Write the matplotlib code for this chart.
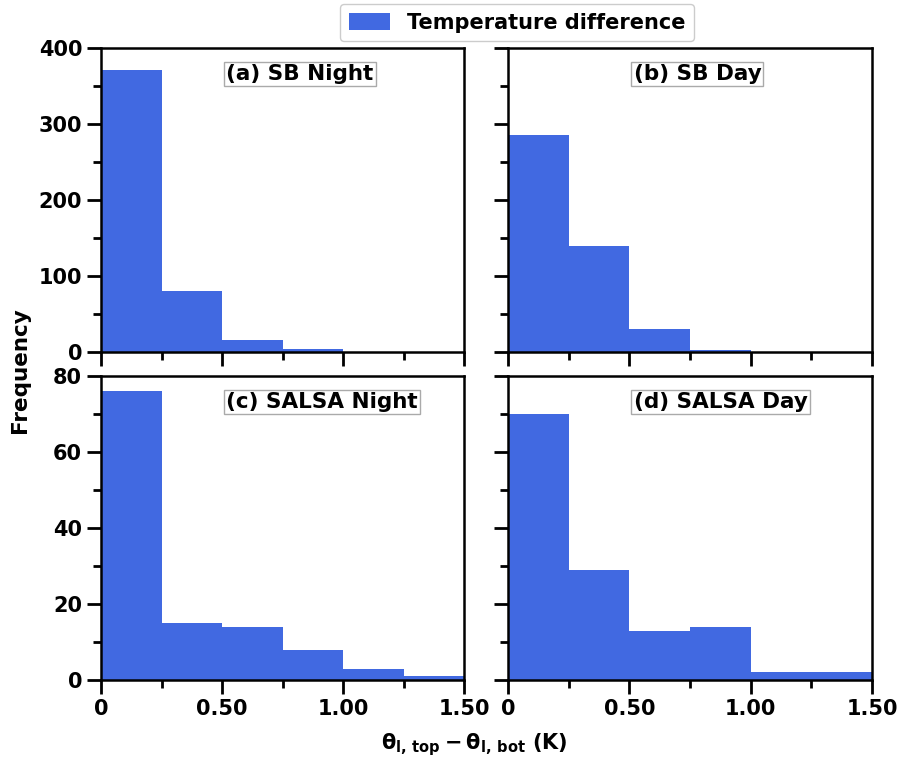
import numpy as np
import matplotlib
matplotlib.use('Agg')
import matplotlib.pyplot as plt
from matplotlib.ticker import MultipleLocator, FixedLocator

# bin edges and counts per panel
bin_edges = [0, 0.25, 0.5, 0.75, 1.0, 1.25, 1.5]
sb_night = [371, 80, 16, 4, 0, 0]
sb_day = [286, 139, 30, 2, 0, 0]
salsa_night = [76, 15, 14, 8, 3, 1]
salsa_day = [70, 29, 13, 14, 2, 2]
panel_titles = ['(a) SB Night', '(b) SB Day', '(c) SALSA Night', '(d) SALSA Day']
xtick_vals = [0, 0.5, 1.0, 1.5]
xtick_labels = ['0', '0.50', '1.00', '1.50']

plt.rcParams['font.weight'] = 'bold'
plt.rcParams['axes.labelweight'] = 'bold'

fig = plt.figure(figsize=(8.99, 7.63), dpi=100)
W, H = 899.0, 763.0
boxes = [(101, 48, 363, 304), (508, 48, 364, 304),
         (101, 376, 363, 304), (508, 376, 364, 304)]
data = [sb_night, sb_day, salsa_night, salsa_day]
color = '#4169E1'

axes = []
for i, (x0, y0, w, h) in enumerate(boxes):
    ax = fig.add_axes([x0 / W, 1 - (y0 + h) / H, w / W, h / H])
    centers = np.array(bin_edges[:-1]) + 0.125
    ax.hist(centers, bins=bin_edges, weights=data[i], color=color,
            label='Temperature difference' if i == 0 else None)
    ax.set_xlim(0, 1.5)
    if i < 2:
        ax.set_ylim(0, 400)
        ax.yaxis.set_major_locator(MultipleLocator(100))
        ax.yaxis.set_minor_locator(MultipleLocator(50))
    else:
        ax.set_ylim(0, 80)
        ax.yaxis.set_major_locator(MultipleLocator(20))
        ax.yaxis.set_minor_locator(MultipleLocator(10))
    ax.xaxis.set_major_locator(FixedLocator(xtick_vals))
    ax.xaxis.set_minor_locator(MultipleLocator(0.25))
    if i >= 2:
        ax.set_xticklabels(xtick_labels)
    else:
        ax.set_xticklabels([])
    if i % 2 == 1:
        ax.set_yticklabels([])
    ax.tick_params(which='major', length=10, width=2, labelsize=15)
    ax.tick_params(which='minor', length=6, width=2)
    for s in ax.spines.values():
        s.set_linewidth(1.8)
    ax.text(0.345, 0.915, panel_titles[i], transform=ax.transAxes,
            fontsize=15.5, fontweight='bold', ha='left', va='center',
            bbox=dict(facecolor='white', edgecolor='#aaaaaa', pad=1.5, linewidth=1))
    axes.append(ax)

fig.text(20 / W, 1 - 370 / H, 'Frequency', rotation=90, fontsize=15.5,
         fontweight='bold', ha='center', va='center')
fig.text(474 / W, 1 - 745 / H,
         r'$\mathbf{\theta_{l,\,top} - \theta_{l,\,bot}}$ (K)',
         fontsize=15, fontweight='bold', ha='center', va='center')

fig.legend(loc='upper center', bbox_to_anchor=(517 / W, 1.008), fontsize=15,
           handlelength=2.0, handleheight=0.9, handletextpad=0.8,
           framealpha=1, edgecolor='#cccccc')

fig.savefig('out.png', dpi=100)
